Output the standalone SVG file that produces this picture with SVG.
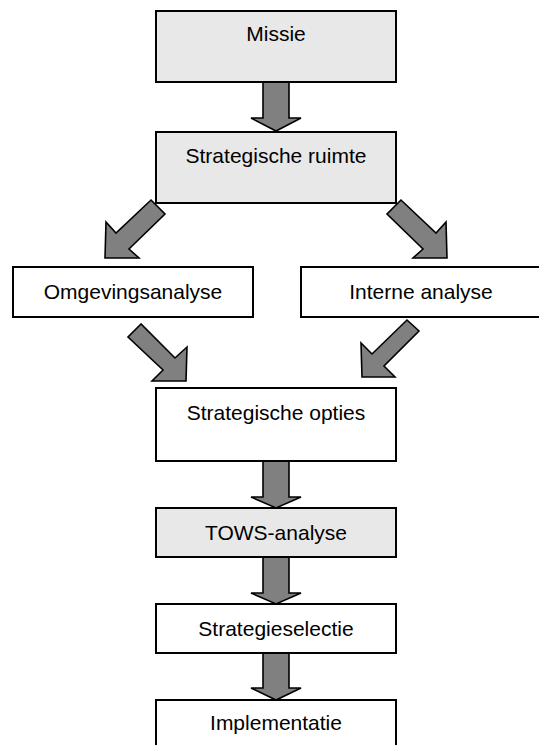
<svg xmlns="http://www.w3.org/2000/svg" width="539" height="745" viewBox="0 0 539 745">
<style>
.box{stroke:#000;stroke-width:2}
.g{fill:#e8e8e8}
.w{fill:#fff}
.lbl{font-family:"Liberation Sans",Arial,sans-serif;font-size:21px;fill:#000;text-anchor:middle}
.arr{fill:#808080;stroke:#000;stroke-width:1.6;stroke-linejoin:miter}
</style>
<rect width="539" height="745" fill="#fff"/>
<g id="connectors">
<polygon class="arr" points="263,82 289,82 289,118 301,118 276,131 251,118 263,118"/>
<polygon class="arr" points="151,200 165,214 129,249 139,258 105,258 106,222 116,233"/>
<polygon class="arr" points="401,200 387,214 423,249 413,258 447,258 446,222 436,233"/>
<polygon class="arr" points="141,324 128,337 163,370 152,381 186,381 187,347 175,358"/>
<polygon class="arr" points="407,320 419,331 384,366 395,377 362,377 361,343 372,354"/>
<polygon class="arr" points="263,461 289,461 289,497 301,497 276,508 251,497 263,497"/>
<polygon class="arr" points="263,557 289,557 289,593 301,593 276,604 251,593 263,593"/>
<polygon class="arr" points="263,653 289,653 289,688 301,688 276,700 251,688 263,688"/>
</g>
<g id="missie"><rect class="box g" x="156" y="11" width="240" height="71"/><text class="lbl" x="276" y="41">Missie</text></g>
<g id="strategische-ruimte"><rect class="box g" x="156" y="132" width="240" height="71"/><text class="lbl" x="276" y="163">Strategische ruimte</text></g>
<g id="omgevingsanalyse"><rect class="box w" x="13" y="267" width="240" height="50"/><text class="lbl" x="133" y="299">Omgevingsanalyse</text></g>
<g id="interne-analyse"><rect class="box w" x="301" y="267" width="240" height="50"/><text class="lbl" x="421" y="299">Interne analyse</text></g>
<g id="strategische-opties"><rect class="box w" x="156" y="388" width="240" height="73"/><text class="lbl" x="276" y="420">Strategische opties</text></g>
<g id="tows-analyse"><rect class="box g" x="156" y="508" width="240" height="49"/><text class="lbl" x="276" y="540">TOWS-analyse</text></g>
<g id="strategieselectie"><rect class="box w" x="156" y="604" width="240" height="49"/><text class="lbl" x="276" y="636">Strategieselectie</text></g>
<g id="implementatie"><rect class="box w" x="156" y="700" width="240" height="60"/><text class="lbl" x="276" y="730">Implementatie</text></g>
</svg>
